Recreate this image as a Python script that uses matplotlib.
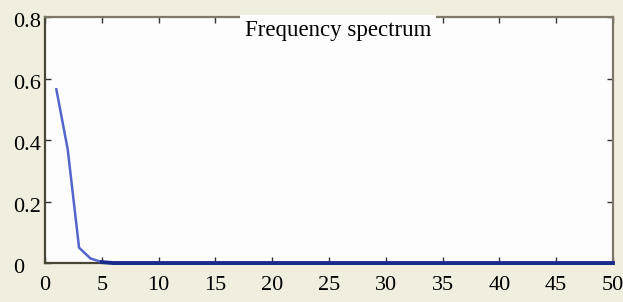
import numpy as np
import matplotlib.pyplot as plt
import matplotlib.transforms as mtransforms

# spectrum
freq = list(range(1, 51))
amplitude = [0.565, 0.37, 0.05, 0.015, 0.003,
             0, 0, 0, 0, 0, 0, 0, 0, 0, 0, 0, 0, 0, 0, 0,
             0, 0, 0, 0, 0, 0, 0, 0, 0, 0, 0, 0, 0, 0, 0,
             0, 0, 0, 0, 0, 0, 0, 0, 0, 0, 0, 0, 0, 0, 0]
x_ticks = [0, 5, 10, 15, 20, 25, 30, 35, 40, 45, 50]
y_ticks = [0, 0.2, 0.4, 0.6, 0.8]
y_tick_labels = ['0', '0.2', '0.4', '0.6', '0.8']
title = 'Frequency spectrum'

plt.rcParams['font.family'] = ['Liberation Serif', 'DejaVu Serif']

fig = plt.figure(figsize=(6.23, 3.02), dpi=100)
fig.patch.set_facecolor('#f1eee0')
ax = fig.add_axes([0.0722, 0.129, 0.9117, 0.8146])
ax.set_facecolor('#fdfdfd')

x = np.array(freq)
y = np.array(amplitude)
ax.plot(x, y, color='#5466cc', lw=1.8, zorder=3)
flat = np.ma.masked_where(y > 0.01, y)
ax.plot(x, flat, color='#1a2a8a', lw=2.8, zorder=4, clip_on=False)

ax.set_xlim(0, 50)
ax.set_ylim(0, 0.8)
ax.set_xticks(x_ticks)
ax.set_yticks(y_ticks)
ax.set_yticklabels(y_tick_labels)
ax.tick_params(direction='in', length=4, width=1, top=True, right=True,
               labelsize=16, colors='#333333', labelcolor='black')
ax.tick_params(axis='x', pad=9)
ax.tick_params(axis='y', pad=23)

# y labels are left aligned and sit a little below their ticks
shift = mtransforms.ScaledTranslation(0, -3 / 100, fig.dpi_scale_trans)
for lab in ax.get_yticklabels():
    lab.set_horizontalalignment('left')
    lab.set_transform(lab.get_transform() + shift)

for side in ['left', 'bottom']:
    ax.spines[side].set_color('#4a4636')
    ax.spines[side].set_linewidth(1.6)
for side in ['top', 'right']:
    ax.spines[side].set_color('#7d7868')
    ax.spines[side].set_linewidth(1.6)

ax.text(0.516, 0.945, title, transform=ax.transAxes, ha='center', va='center',
        fontsize=16.5, zorder=5,
        bbox=dict(boxstyle='square,pad=0.22', facecolor='#fdfdfd', edgecolor='none'))

fig.savefig('out.png', dpi=100, facecolor=fig.get_facecolor())
